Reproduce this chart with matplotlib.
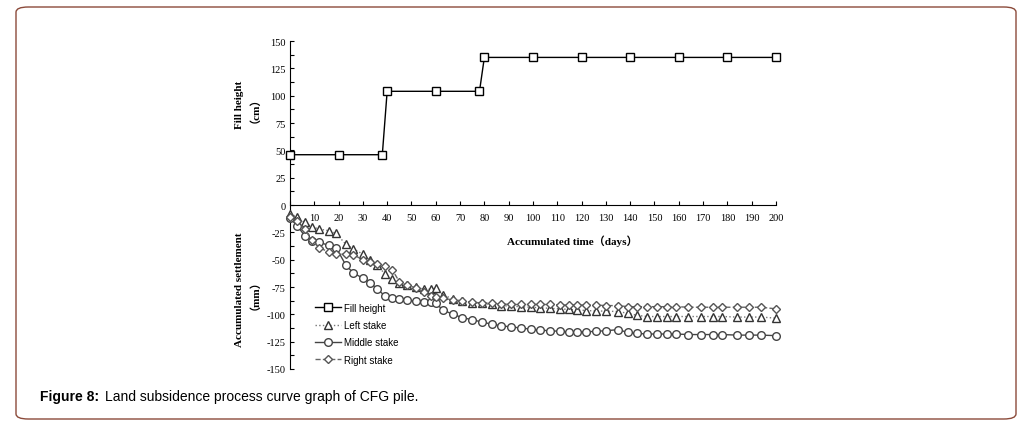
import numpy as np
import matplotlib
matplotlib.use("Agg")
from matplotlib import pyplot as plt
from matplotlib.patches import FancyBboxPatch
from matplotlib.ticker import MultipleLocator

# fill height (cm)
fill_days = [0, 20, 38, 40, 60, 78, 80, 100, 120, 140, 160, 180, 200]
fill_height = [46, 46, 46, 104, 104, 104, 135, 135, 135, 135, 135, 135, 135]

# settlement (mm)
days = [0, 3, 6, 9, 12, 16, 19, 23, 26, 30, 33, 36, 39, 42, 45, 48, 52, 55, 58, 60,
        63, 67, 71, 75, 79, 83, 87, 91, 95, 99, 103, 107, 111, 115, 118, 122, 126, 130,
        135, 139, 143, 147, 151, 155, 159, 164, 169, 174, 178, 184, 189, 194, 200]
left_stake = [-8, -11, -16, -20, -22, -23.5, -26, -36, -40, -45, -50, -55, -63, -68, -71,
              -73, -75, -77, -77, -76, -82, -86, -88, -89.5, -90, -91, -92, -92.5, -93,
              -93.5, -94, -94.5, -95, -95.5, -96, -96.5, -97, -97, -97.5, -99, -101, -102,
              -102, -102, -102, -102, -102, -102, -102, -102.5, -102.5, -102.5, -103.5]
middle_stake = [-12, -19, -28, -33, -34, -37, -39, -55, -62, -67, -71, -77, -83, -85, -86,
                -87, -88, -88.5, -89, -90, -96, -100, -103, -105, -107, -109, -110.5, -111.5,
                -112.5, -113.5, -114.5, -115, -115.5, -116, -116, -116, -115.5, -115, -114,
                -116.5, -117.5, -118, -118, -118, -118, -118.5, -118.5, -118.5, -118.5, -119,
                -119, -119, -119.5]
right_stake = [-11, -15, -22, -32, -39, -43, -45, -45, -45.5, -50, -52, -54, -56, -59, -70,
               -73, -76, -80, -83, -84, -85, -87, -88, -89, -89.5, -90, -90.5, -91, -91, -91,
               -91, -91, -91.5, -91.5, -91.5, -91.5, -91.5, -92, -92, -93, -93, -93, -93, -93,
               -93, -93.5, -93.5, -93.5, -93.5, -93.5, -93.5, -93.5, -95]

serif = ["Liberation Serif", "Noto Sans CJK SC"]

fig = plt.figure(figsize=(10.25, 4.27), dpi=100)
ax = fig.add_axes([0.2829, 0.1335, 0.4741, 0.7681])

mk = dict(markerfacecolor="white", markeredgewidth=1.0, clip_on=False)
ax.plot(fill_days, fill_height, "-", color="black", lw=1.0, marker="s", ms=6,
        markeredgecolor="black", label="Fill height", zorder=5, **mk)
ax.plot(days, left_stake, ":", color="#777777", lw=1.0, marker="^", ms=6,
        markeredgecolor="#333333", label="Left stake", zorder=4, **mk)
ax.plot(days, middle_stake, "-", color="#444444", lw=1.0, marker="o", ms=5.5,
        markeredgecolor="#444444", label="Middle stake", zorder=4, **mk)
ax.plot(days, right_stake, "--", color="#666666", lw=1.0, marker="D", ms=4.5,
        markeredgecolor="#555555", label="Right stake", zorder=4, **mk)

ax.set_xlim(0, 200)
ax.set_ylim(-150, 150)
ax.spines["top"].set_visible(False)
ax.spines["right"].set_visible(False)
ax.spines["bottom"].set_position(("data", 0))
ax.spines["bottom"].set_bounds(0, 200)
ax.xaxis.set_major_locator(MultipleLocator(10))
ax.yaxis.set_minor_locator(MultipleLocator(12.5))
ax.tick_params(axis="x", direction="in", length=3, width=0.8, pad=6, labelsize=7.5)
ax.tick_params(axis="y", which="both", direction="in", length=3, width=0.8, pad=3, labelsize=7.5)
ax.set_yticks(np.arange(-150, 151, 25))
ax.set_yticklabels([str(v) for v in range(-150, 151, 25)])
for lab in ax.get_xticklabels() + ax.get_yticklabels():
    lab.set_family(serif)

ax.text(116, -32, "Accumulated time（days）", ha="center", va="center",
        fontsize=8, fontweight="bold", family=serif)
fig.text(0.239, 0.754, "Fill height\n（cm）", rotation=90, ha="center", va="center",
         fontsize=8, fontweight="bold", family=serif, multialignment="center",
         linespacing=1.0)
fig.text(0.239, 0.321, "Accumulated settlement\n（mm）", rotation=90, ha="center",
         va="center", fontsize=8, fontweight="bold", family=serif, multialignment="center",
         linespacing=1.0)

ax.legend(loc="upper left", bbox_to_anchor=(310 / 1025, 1 - 299 / 427),
          bbox_transform=fig.transFigure, frameon=False,
          prop={"family": "Liberation Sans", "size": 7}, handlelength=2.7,
          handletextpad=0.3, labelspacing=0.75, borderpad=0)

fig.patches.append(FancyBboxPatch((16 / 1025, 7 / 427), 1000 / 1025, 412 / 427,
                                  boxstyle="round,pad=0,rounding_size=0.012",
                                  transform=fig.transFigure, fill=False,
                                  edgecolor="#8b4a3a", lw=1.0))
fig.text(40 / 1025, 1 - 397 / 427, "Figure 8:", fontsize=10, fontweight="bold",
         family="Liberation Sans", va="center", ha="left")
fig.text(105 / 1025, 1 - 397 / 427, "Land subsidence process curve graph of CFG pile.",
         fontsize=10, family="Liberation Sans", va="center", ha="left")

fig.savefig("out.png", dpi=100)
